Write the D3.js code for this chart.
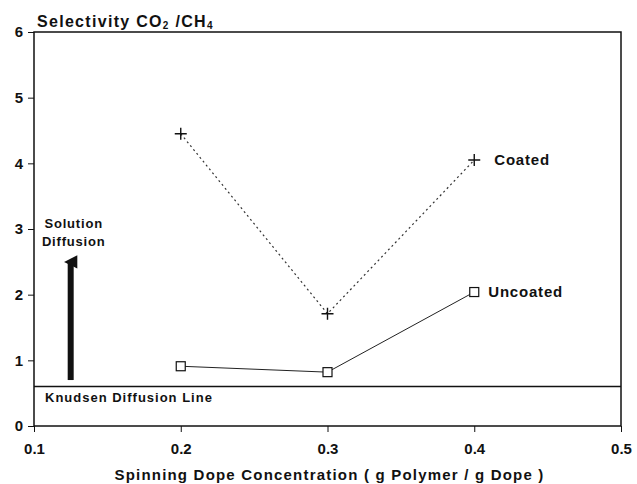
<!DOCTYPE html>
<html>
<head>
<meta charset="utf-8">
<script src="https://cdn.jsdelivr.net/npm/d3@7"></script>
<style>
  body { margin: 0; background: #fff; }
  text { font-family: "Liberation Sans", Arial, sans-serif; font-weight: bold; fill: #111; }
</style>
</head>
<body>
<div id="chart"></div>
<script>
const concentrations = [0.2, 0.3, 0.4];
const coated = [4.45, 1.71, 4.05];
const uncoated = [0.91, 0.82, 2.04];
const xTicks = [0.1, 0.2, 0.3, 0.4, 0.5];
const yTicks = [0, 1, 2, 3, 4, 5, 6];
const knudsen = 0.6;
const arrowX = 0.125, arrowFrom = 0.7, arrowTo = 2.62;

const margin = {top: 32, right: 16, bottom: 58, left: 34},
    width = 637 - margin.left - margin.right,
    height = 484 - margin.top - margin.bottom;

const svg = d3.select("#chart")
    .append("svg")
    .attr("width", 637)
    .attr("height", 484)
    .append("g")
    .attr("transform", `translate(${margin.left}, ${margin.top})`);

const x = d3.scaleLinear().domain([0.1, 0.5]).range([0, width]);
const y = d3.scaleLinear().domain([0, 6]).range([height, 0]);

// frame
svg.append("rect")
    .attr("width", width)
    .attr("height", height)
    .attr("fill", "none")
    .attr("stroke", "#111")
    .attr("stroke-width", 1.5);

const xAxis = svg.append("g")
    .attr("transform", `translate(0, ${height})`)
    .call(d3.axisBottom(x).tickValues(xTicks).tickSize(6).tickPadding(11)
        .tickFormat(d3.format(".1f")));
const yAxis = svg.append("g")
    .call(d3.axisLeft(y).tickValues(yTicks).tickSize(6).tickPadding(5)
        .tickFormat(d3.format("d")));
[xAxis, yAxis].forEach(function (g) {
    g.select(".domain").remove();
    g.selectAll("line").attr("stroke", "#111");
    g.selectAll("text").attr("font-size", 15).attr("font-family", null);
});

// knudsen line
svg.append("line")
    .attr("x1", 0).attr("x2", width)
    .attr("y1", y(knudsen)).attr("y2", y(knudsen))
    .attr("stroke", "#111").attr("stroke-width", 1.5);
svg.append("text")
    .attr("x", 11).attr("y", y(knudsen) + 15)
    .attr("font-size", 13).attr("letter-spacing", 1)
    .text("Knudsen Diffusion Line");

// arrow
svg.append("defs").append("marker")
    .attr("id", "head")
    .attr("viewBox", "0 0 10 10")
    .attr("refX", 5).attr("refY", 5)
    .attr("markerWidth", 2.2).attr("markerHeight", 2.6)
    .attr("markerUnits", "strokeWidth")
    .attr("orient", "auto")
    .append("path")
    .attr("d", "M0,10 L5,0 L10,10 Z")
    .attr("fill", "#111");
svg.append("line")
    .attr("x1", x(arrowX)).attr("x2", x(arrowX))
    .attr("y1", y(arrowFrom)).attr("y2", y(arrowTo) + 8)
    .attr("stroke", "#111").attr("stroke-width", 6)
    .attr("marker-end", "url(#head)");
svg.append("text")
    .attr("x", x(arrowX) + 3).attr("y", 196)
    .attr("text-anchor", "middle").attr("font-size", 13).attr("letter-spacing", 0.8)
    .text("Solution");
svg.append("text")
    .attr("x", x(arrowX) + 3).attr("y", 214)
    .attr("text-anchor", "middle").attr("font-size", 13).attr("letter-spacing", 0.8)
    .text("Diffusion");

// series
const line = d3.line()
    .x(function (d, i) { return x(concentrations[i]); })
    .y(function (d) { return y(d); });

svg.append("path")
    .datum(coated)
    .attr("d", line)
    .attr("fill", "none")
    .attr("stroke", "#333")
    .attr("stroke-width", 1.2)
    .attr("stroke-dasharray", "2,3");
svg.append("path")
    .datum(uncoated)
    .attr("d", line)
    .attr("fill", "none")
    .attr("stroke", "#222")
    .attr("stroke-width", 1);

svg.selectAll(".plus")
    .data(coated)
    .enter()
    .append("path")
    .attr("class", "plus")
    .attr("transform", function (d, i) { return `translate(${x(concentrations[i])}, ${y(d)})`; })
    .attr("d", "M-6,0 H6 M0,-6 V6")
    .attr("stroke", "#111")
    .attr("stroke-width", 1.4);

svg.selectAll(".sq")
    .data(uncoated)
    .enter()
    .append("rect")
    .attr("class", "sq")
    .attr("x", function (d, i) { return x(concentrations[i]) - 4.5; })
    .attr("y", function (d) { return y(d) - 4.5; })
    .attr("width", 9).attr("height", 9)
    .attr("fill", "#fff")
    .attr("stroke", "#111")
    .attr("stroke-width", 1.2);

svg.append("text")
    .attr("x", x(0.4) + 20).attr("y", y(coated[2]) + 5)
    .attr("font-size", 15).attr("letter-spacing", 0.8)
    .text("Coated");
svg.append("text")
    .attr("x", x(0.4) + 14).attr("y", y(uncoated[2]) + 5)
    .attr("font-size", 15).attr("letter-spacing", 0.8)
    .text("Uncoated");

// titles
const title = svg.append("text")
    .attr("x", 3).attr("y", -5)
    .attr("font-size", 16).attr("letter-spacing", 1.3);
title.append("tspan").text("Selectivity CO");
title.append("tspan").attr("font-size", 10).attr("dy", 2).text("2");
title.append("tspan").attr("dy", -2).text(" /CH");
title.append("tspan").attr("font-size", 10).attr("dy", 2).text("4");

svg.append("text")
    .attr("x", (x(0.1) + x(0.5)) / 2 + 2).attr("y", height + 54)
    .attr("text-anchor", "middle")
    .attr("font-size", 15).attr("letter-spacing", 1.2)
    .text("Spinning Dope Concentration ( g Polymer / g Dope )");
</script>
</body>
</html>
